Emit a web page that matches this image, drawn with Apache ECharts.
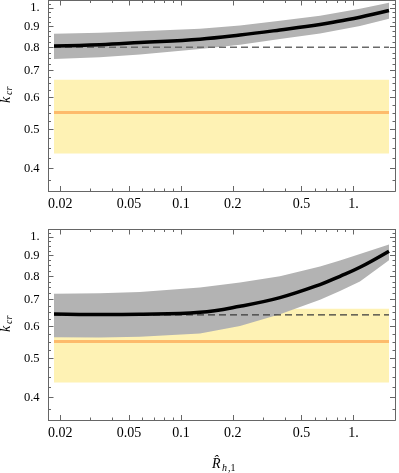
<!DOCTYPE html>
<html>
<head>
<meta charset="utf-8">
<script src="https://cdn.jsdelivr.net/npm/echarts@6/dist/echarts.min.js"></script>
<style>html,body{margin:0;padding:0;background:#fff}#c{width:399px;height:473px}</style>
</head>
<body>
<div id="c"></div>
<script>
// ---- data ----
const xTicksMajor = [0.02, 0.05, 0.1, 0.2, 0.5, 1];
const xTicksMinor = [0.03, 0.04, 0.06, 0.07, 0.08, 0.09, 0.3, 0.4, 0.6, 0.7, 0.8, 0.9];
const yTicksMajor = [0.4, 0.5, 0.6, 0.7, 0.8, 0.9, 1];
const yTicksMinor = [0.375, 0.425, 0.45, 0.475, 0.525, 0.55, 0.575, 0.625, 0.65, 0.675, 0.725, 0.75, 0.775, 0.825, 0.85, 0.875, 0.925, 0.95, 0.975, 1.025];

const xs = [0.0184, 0.0339, 0.0579, 0.129, 0.220, 0.375, 0.640, 0.835, 1.09, 1.606];

// top panel
const topCurve = [0.806, 0.812, 0.822, 0.838, 0.858, 0.883, 0.911, 0.930, 0.950, 0.987];
const topBandHi = [0.864, 0.869, 0.877, 0.889, 0.906, 0.931, 0.958, 0.977, 0.997, 1.031];
const topBandLo = [0.748, 0.756, 0.768, 0.792, 0.812, 0.839, 0.866, 0.884, 0.904, 0.941];
const topRef = 0.8;

// bottom panel
const botCurve = [0.645, 0.643, 0.644, 0.651, 0.674, 0.708, 0.763, 0.800, 0.842, 0.923];
const botBandHi = [0.724, 0.726, 0.731, 0.750, 0.772, 0.800, 0.846, 0.876, 0.908, 0.959];
const botBandLo = [0.565, 0.564, 0.566, 0.577, 0.602, 0.644, 0.700, 0.735, 0.777, 0.877];
const botRef = 0.642;

// yellow range with orange central value (both panels)
const rangeLo = 0.436, rangeHi = 0.665, rangeMid = 0.551;
const rangeX = [0.0184, 1.606];

const xMin = 0.0171, xMax = 1.74, yMin = 0.352, yMax = 1.045;

// ---- chart ----
const chart = echarts.init(document.getElementById('c'), null, {renderer: 'canvas'});
const FONT = 'Liberation Serif';
const AX = '#666';

function fmt(v) { return Math.abs(v - 1) < 1e-9 ? '1.' : String(v); }

const grids = [
  {left: 48.5, right: 4, top: 0.5, height: 190.5},
  {left: 48.5, right: 4, top: 229.5, height: 190.5}
];

const xAxes = [], yAxes = [];
grids.forEach((g, gi) => {
  const baseX = {type: 'log', logBase: 10, min: xMin, max: xMax, gridIndex: gi,
    splitLine: {show: false}, axisLine: {show: true, lineStyle: {color: AX, width: 1}}};
  xAxes.push(Object.assign({}, baseX, {position: 'bottom',
    axisTick: {show: true, inside: true, length: 5, customValues: xTicksMajor, lineStyle: {color: AX}},
    axisLabel: {show: true, customValues: xTicksMajor, formatter: fmt, margin: 6,
      color: '#000', fontFamily: FONT, fontSize: 14}}));
  xAxes.push(Object.assign({}, baseX, {position: 'bottom',
    axisTick: {show: true, inside: true, length: 2.5, customValues: xTicksMinor, lineStyle: {color: AX}},
    axisLabel: {show: false}}));
  xAxes.push(Object.assign({}, baseX, {position: 'top',
    axisTick: {show: true, inside: true, length: 5, customValues: xTicksMajor, lineStyle: {color: AX}},
    axisLabel: {show: false}}));
  xAxes.push(Object.assign({}, baseX, {position: 'top',
    axisTick: {show: true, inside: true, length: 2.5, customValues: xTicksMinor, lineStyle: {color: AX}},
    axisLabel: {show: false}}));

  const baseY = {type: 'log', logBase: 10, min: yMin, max: yMax, gridIndex: gi,
    splitLine: {show: false}, axisLine: {show: true, lineStyle: {color: AX, width: 1}}};
  yAxes.push(Object.assign({}, baseY, {position: 'left',
    axisTick: {show: true, inside: true, length: 5, customValues: yTicksMajor, lineStyle: {color: AX}},
    axisLabel: {show: true, customValues: yTicksMajor, formatter: fmt, margin: 9,
      color: '#000', fontFamily: FONT, fontSize: 12.5}}));
  yAxes.push(Object.assign({}, baseY, {position: 'left',
    axisTick: {show: true, inside: true, length: 2.5, customValues: yTicksMinor, lineStyle: {color: AX}},
    axisLabel: {show: false}}));
  yAxes.push(Object.assign({}, baseY, {position: 'right',
    axisTick: {show: true, inside: true, length: 5, customValues: yTicksMajor, lineStyle: {color: AX}},
    axisLabel: {show: false}}));
  yAxes.push(Object.assign({}, baseY, {position: 'right',
    axisTick: {show: true, inside: true, length: 2.5, customValues: yTicksMinor, lineStyle: {color: AX}},
    axisLabel: {show: false}}));
});

function polySeries(gi, xArr, lo, hi, color, z) {
  return {
    type: 'custom', xAxisIndex: gi * 4, yAxisIndex: gi * 4, z: z, silent: true, clip: true,
    data: [[xArr[0], hi[0]]],
    renderItem: function (params, api) {
      const pts = [];
      for (let i = 0; i < xArr.length; i++) pts.push(api.coord([xArr[i], hi[i]]));
      for (let i = xArr.length - 1; i >= 0; i--) pts.push(api.coord([xArr[i], lo[i]]));
      return {type: 'polygon', shape: {points: pts}, style: {fill: color}};
    }
  };
}
function hline(gi, y, color, width, dash, z) {
  return {
    type: 'line', xAxisIndex: gi * 4, yAxisIndex: gi * 4, z: z, silent: true,
    showSymbol: false, animation: false,
    data: [[rangeX[0], y], [rangeX[1], y]],
    lineStyle: {color: color, width: width, type: dash || 'solid'}
  };
}
function curve(gi, ys, z) {
  return {
    type: 'line', xAxisIndex: gi * 4, yAxisIndex: gi * 4, z: z, silent: true,
    showSymbol: false, smooth: 0.4, animation: false,
    data: xs.map((x, i) => [x, ys[i]]),
    lineStyle: {color: '#000', width: 3.5}
  };
}
function rangeRect(gi) {
  return polySeries(gi, rangeX, [rangeLo, rangeLo], [rangeHi, rangeHi], '#FEF2B4', 1);
}

const series = [];
[[topCurve, topBandLo, topBandHi, topRef, '#6a6a6a', 1.6], [botCurve, botBandLo, botBandHi, botRef, '#3a3a3a', 1.2]]
  .forEach((p, gi) => {
    series.push(rangeRect(gi));
    series.push(polySeries(gi, xs, p[1], p[2], '#B3B3B3', 2));
    series.push(hline(gi, rangeMid, '#FDBB6C', 3, 'solid', 3));
    series.push(hline(gi, p[3], p[4], p[5], [7, 4], 4));
    series.push(curve(gi, p[0], 5));
  });

const graphics = [];
[0, 229].forEach(off => {
  graphics.push({type: 'text', x: 13, y: 103 + off, rotation: Math.PI / 2,
    style: {text: 'k', font: 'italic 14px "Liberation Serif"', fill: '#000', textAlign: 'left', textVerticalAlign: 'bottom'}});
  graphics.push({type: 'text', x: 14.5, y: 95 + off, rotation: Math.PI / 2,
    style: {text: 'cr', font: 'italic 10px "Liberation Serif"', fill: '#000', textAlign: 'left', textVerticalAlign: 'bottom'}});
});
graphics.push({type: 'text', x: 212, y: 471,
  style: {text: 'R\u0302', font: 'italic 14px "Liberation Serif"', fill: '#000', textAlign: 'left', textVerticalAlign: 'bottom'}});
graphics.push({type: 'text', x: 222, y: 473,
  style: {text: 'h', font: 'italic 10px "Liberation Serif"', fill: '#000', textAlign: 'left', textVerticalAlign: 'bottom'}});
graphics.push({type: 'text', x: 228, y: 473,
  style: {text: ',1', font: '10px "Liberation Serif"', fill: '#000', textAlign: 'left', textVerticalAlign: 'bottom'}});

chart.setOption({
  animation: false,
  grid: grids,
  xAxis: xAxes,
  yAxis: yAxes,
  series: series,
  graphic: graphics
});
</script>
</body>
</html>
